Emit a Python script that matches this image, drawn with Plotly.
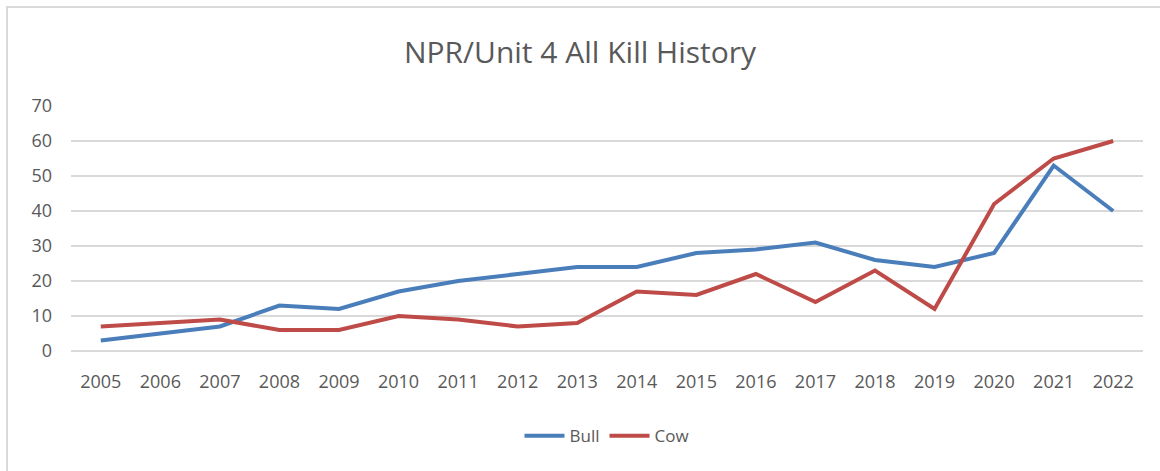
import plotly.graph_objects as go

years = ["2005", "2006", "2007", "2008", "2009", "2010", "2011", "2012", "2013",
         "2014", "2015", "2016", "2017", "2018", "2019", "2020", "2021", "2022"]
bull = [3, 5, 7, 13, 12, 17, 20, 22, 24, 24, 28, 29, 31, 26, 24, 28, 53, 40]
cow = [7, 8, 9, 6, 6, 10, 9, 7, 8, 17, 16, 22, 14, 23, 12, 42, 55, 60]
y_ticks = [0, 10, 20, 30, 40, 50, 60, 70]

FONT = "Open Sans"
TXT = "#595959"

fig = go.Figure()
fig.add_trace(go.Scatter(x=years, y=bull, mode="lines", name="Bull",
                         line=dict(color="#4A7EBB", width=4)))
fig.add_trace(go.Scatter(x=years, y=cow, mode="lines", name="Cow",
                         line=dict(color="#BE4B48", width=4)))

fig.update_layout(
    width=1160, height=471,
    margin=dict(l=71, r=17, t=106, b=120),
    paper_bgcolor="white", plot_bgcolor="white",
    font=dict(family=FONT, color=TXT, size=18),
    title=dict(text="NPR/Unit 4 All Kill History", x=0.5, xanchor="center",
               y=1 - 52 / 471, yanchor="middle",
               font=dict(family=FONT, size=30, color="#595959")),
    showlegend=True,
    legend=dict(orientation="h", x=0.5, xanchor="center", y=-0.348, yanchor="middle",
                font=dict(family=FONT, size=17, color=TXT), itemwidth=40,
                bgcolor="rgba(0,0,0,0)"),
    xaxis=dict(type="category", range=[-0.5, 17.5], showgrid=False, zeroline=False,
               showline=False, ticks="", tickfont=dict(size=18, color=TXT),
               ticklabelstandoff=18),
    yaxis=dict(range=[0, 70], tickvals=y_ticks, showgrid=True, gridcolor="#D9D9D9",
               gridwidth=1.5, zeroline=True, zerolinecolor="#D9D9D9", zerolinewidth=1.5,
               showline=False, ticks="", tickfont=dict(size=18, color=TXT),
               ticklabelstandoff=18),
    shapes=[dict(type="rect", xref="paper", yref="paper",
                 x0=-64 / 1072, x1=1.1, y0=-1.0, y1=1 + 99 / 245,
                 line=dict(color="#D9D9D9", width=2), fillcolor="rgba(0,0,0,0)",
                 layer="below")],
)

fig.write_html("out.html", config={"displayModeBar": False},
               post_script="document.body.style.margin='0';document.body.style.overflow='hidden';")
